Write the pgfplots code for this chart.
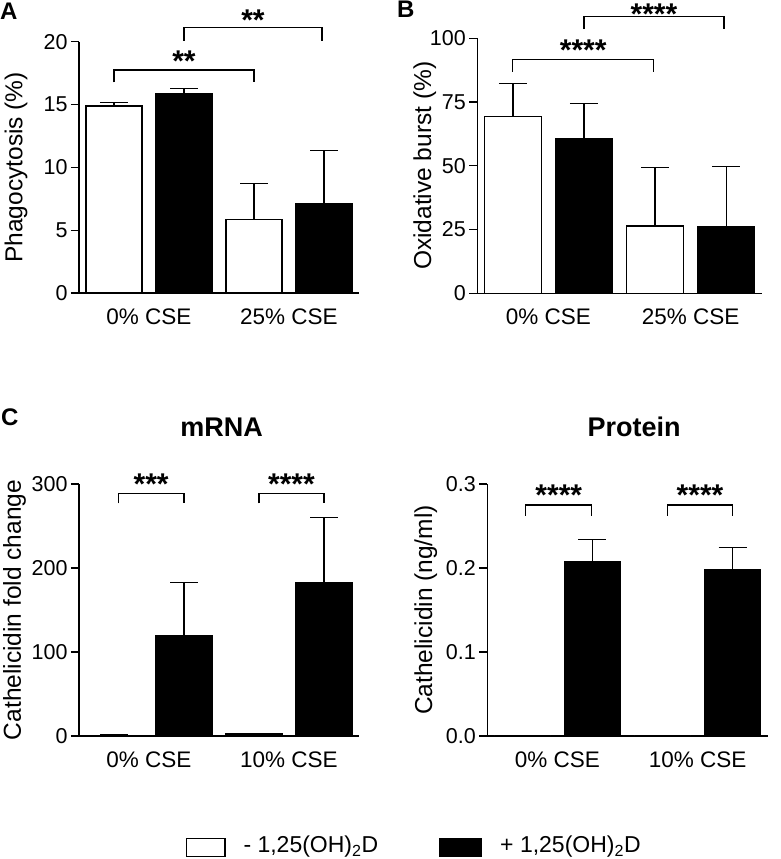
\documentclass[border=0pt]{standalone}
\usepackage{pgfplots}
\pgfplotsset{compat=1.18}
\usepackage{fontspec}
\setmainfont{Liberation Sans}
\newcommand{\fs}[1]{\fontsize{#1}{#1}\selectfont}
\pgfplotsset{
 myaxis/.style={
  scale only axis, clip=false,
  axis x line*=bottom, axis y line*=left,
  axis line style={line width=1.3pt, -},
  xmin=-0.5, xmax=3.5, ymin=0,
  xtick={0.5,2.5},
  x tick style={draw=none},
  y tick style={line width=1.3pt, black},
  tick align=outside, major tick length=8pt,
  tick label style={font=\fs{21.5}},
  xticklabel style={font=\fs{22.5}, yshift=-4pt},
  ylabel style={font=\fs{24.5}},
  /pgf/number format/assume math mode=true,
 },
 wbar/.style={ybar, bar width=0.8, bar shift=0pt, fill=white, draw=black, line width=1.3pt,
   error bars/.cd, y dir=plus, y explicit,
   error bar style={line width=1.3pt, black},
   error mark options={black, line width=1.3pt, mark size=14pt, rotate=90}},
 kbar/.style={ybar, bar width=0.8, bar shift=0pt, fill=black, draw=black, line width=1.3pt,
   error bars/.cd, y dir=plus, y explicit,
   error bar style={line width=1.3pt, black},
   error mark options={black, line width=1.3pt, mark size=14pt, rotate=90}},
}
\newcommand{\brk}[6][-1pt]{% [yshift] x1 x2 ytop ylegs stars
 \draw[line width=1.2pt] (axis cs:#2,#5) -- (axis cs:#2,#4) -- (axis cs:#3,#4) -- (axis cs:#3,#5);
 \node[anchor=base, inner sep=0pt, font=\fs{30}\bfseries, yshift=#1] at (axis cs:{(#2+#3)/2},#4) {#6};
}
\begin{document}
\begin{tikzpicture}
\path[use as bounding box] (0,0) rectangle (780pt,859pt);

% Panel A
\begin{axis}[myaxis, at={(79pt,566pt)}, anchor=south west, width=280pt, height=251.3pt,
  ymax=20, ytick={0,5,10,15,20},
  xticklabels={0\% CSE, 25\% CSE},
  ylabel={Phagocytosis (\%)},
  ylabel style={at={(axis description cs:-0.225,0.5)}, anchor=center}]
\addplot[wbar] coordinates {(0,14.87) +- (0,0.27) (2,5.86) +- (0,2.84)};
\addplot[kbar] coordinates {(1,15.83) +- (0,0.42) (3,7.13) +- (0,4.19)};
\brk{0}{2}{17.74}{16.76}{**}
\brk[-3pt]{1}{2.97}{21.1}{20.07}{**}
\end{axis}

% Panel B
\begin{axis}[myaxis, at={(477.3pt,565.7pt)}, anchor=south west, width=284.4pt, height=255pt,
  ymax=100, ytick={0,25,50,75,100},
  xticklabels={0\% CSE, 25\% CSE},
  ylabel={Oxidative burst (\%)},
  ylabel style={at={(axis description cs:-0.185,0.5)}, anchor=center}]
\addplot[wbar] coordinates {(0,69.3) +- (0,13.0) (2,26.4) +- (0,22.9)};
\addplot[kbar] coordinates {(1,60.8) +- (0,13.7) (3,26.1) +- (0,23.7)};
\brk{0}{1.98}{91.8}{86.9}{****}
\brk[-8.5pt]{1}{2.97}{108.7}{103.6}{****}
\end{axis}

% Panel C mRNA
\begin{axis}[myaxis, at={(79pt,123pt)}, anchor=south west, width=280pt, height=252pt,
  ymax=300, ytick={0,100,200,300},
  xticklabels={0\% CSE, 10\% CSE},
  ylabel={Cathelicidin fold change},
  ylabel style={at={(axis description cs:-0.23,0.5)}, anchor=center}]
\addplot[wbar] coordinates {(0,1.0) +- (0,0.3) (2,2.5) +- (0,0.8)};
\addplot[kbar] coordinates {(1,119.4) +- (0,63.1) (3,182.5) +- (0,77.4)};
\brk{0.06}{1}{289}{277}{***}
\brk{2.07}{3}{289}{277}{****}
\end{axis}

% Panel C Protein
\begin{axis}[myaxis, at={(487.3pt,123pt)}, anchor=south west, width=280.4pt, height=252pt,
  ymax=0.3, ytick={0,0.1,0.2,0.3}, yticklabels={0.0,0.1,0.2,0.3},
  xticklabels={0\% CSE, 10\% CSE},
  ylabel={Cathelicidin (ng/ml)},
  ylabel style={at={(axis description cs:-0.219,0.5)}, anchor=center}]
\addplot[wbar] coordinates {(0,0) +- (0,0) (2,0) +- (0,0)};
\addplot[kbar] coordinates {(1,0.208) +- (0,0.0262) (3,0.1976) +- (0,0.0266)};
\brk{0.05}{0.99}{0.275}{0.262}{****}
\brk{2.07}{3}{0.275}{0.262}{****}
\end{axis}

% Panel letters and titles
\node[anchor=base west, inner sep=0pt, font=\fs{24}\bfseries] at (0pt,839pt) {A};
\node[anchor=base west, inner sep=0pt, font=\fs{24}\bfseries] at (397pt,841pt) {B};
\node[anchor=base west, inner sep=0pt, font=\fs{24}\bfseries] at (1pt,433pt) {C};
\node[anchor=base, inner sep=0pt, font=\fs{27}\bfseries] at (221.7pt,422.3pt) {mRNA};
\node[anchor=base, inner sep=0pt, font=\fs{27}\bfseries] at (634pt,422.3pt) {Protein};

% Legend
\draw[line width=1.3pt] (186.7pt,2.3pt) rectangle (225pt,20.7pt);
\node[anchor=base west, inner sep=0pt, font=\fs{23}] at (243.3pt,6.3pt) {- 1,25(OH)\textsubscript{2}D};
\fill[black] (439.3pt,2.3pt) rectangle (481.7pt,20.7pt);
\node[anchor=base west, inner sep=0pt, font=\fs{23}] at (500pt,6.3pt) {+ 1,25(OH)\textsubscript{2}D};
\end{tikzpicture}
\end{document}
